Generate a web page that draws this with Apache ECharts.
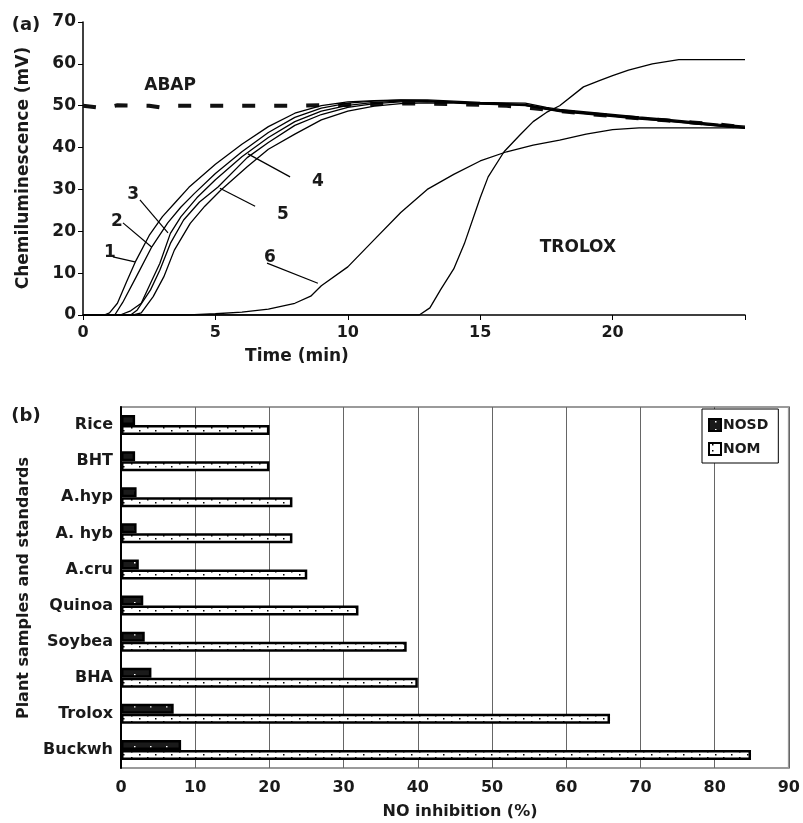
<!DOCTYPE html>
<html>
<head>
<meta charset="utf-8">
<script src="https://cdn.jsdelivr.net/npm/echarts@6/dist/echarts.min.js"></script>
<style>
  html, body { margin: 0; padding: 0; background: #fff; }
  #main { width: 803px; height: 823px; }
</style>
</head>
<body>
<div id="main"></div>
<script>
// (a) chemiluminescence curves, time in min / signal in mV
var abapTime = [0, 0.8, 1.3, 2.5, 3, 3.5, 5, 8, 10, 12, 13, 15, 16, 17, 18, 19, 20, 21, 22, 23, 24, 25];
var abapVal = [50, 49.4, 50.1, 50, 49.5, 50, 50, 50, 50.2, 50.5, 50.5, 50.2, 50, 49.4, 48.7, 48.1, 47.5, 47, 46.5, 46, 45.5, 44.8];

var time1 = [0, 0.8, 1, 1.3, 1.65, 2, 2.5, 3, 3.5, 4, 5, 6, 7, 8, 9, 10, 11, 12, 13, 14, 15, 16, 16.7, 17.5, 18, 19, 20, 21, 22, 23, 24, 25];
var val1 = [0, 0, 0.5, 2.8, 8, 13, 19, 23.5, 27, 30.5, 36, 40.8, 45, 48.2, 50, 50.9, 51.2, 51.4, 51.4, 51.1, 50.8, 50.7, 50.6, 49.6, 49.1, 48.5, 47.9, 47.3, 46.8, 46.2, 45.6, 45.1];

var time2 = [0, 1.2, 1.5, 2, 2.6, 3.2, 3.7, 4.2, 5, 6, 7, 8, 9, 10, 11, 12, 13, 14, 15, 16, 16.7, 17.5, 18, 19, 20, 21, 22, 23, 24, 25];
var val2 = [0, 0, 3, 9, 16.3, 22, 25.8, 29, 33.8, 39, 43.6, 47.2, 49.4, 50.6, 51.1, 51.3, 51.2, 50.9, 50.6, 50.5, 50.3, 49.4, 48.9, 48.3, 47.7, 47.1, 46.6, 46, 45.4, 44.9];

var time3 = [0, 1.4, 1.8, 2.2, 2.55, 2.9, 3.3, 3.7, 4.3, 5, 6, 7, 8, 9, 10, 11, 12, 13, 14, 15, 16, 16.7, 17.5, 18, 19, 20, 21, 22, 23, 24, 25];
var val3 = [0, 0, 1, 2.8, 7.6, 12.3, 19.5, 23.5, 28, 32.3, 37.8, 42.4, 46.2, 48.7, 50.1, 50.8, 51.1, 51.1, 50.8, 50.5, 50.4, 50.2, 49.3, 48.8, 48.2, 47.6, 47, 46.5, 45.9, 45.3, 44.8];

var time4 = [0, 1.8, 2.05, 2.55, 2.9, 3.3, 3.8, 4.4, 5.1, 6.2, 7, 8, 9, 10, 11, 12, 13, 14, 15, 16, 16.7, 17.5, 18, 19, 20, 21, 22, 23, 24, 25];
var val4 = [0, 0, 1.2, 6, 10.7, 17.1, 22.7, 27, 30.6, 37.6, 41.2, 45.3, 47.9, 49.6, 50.5, 50.9, 51, 50.8, 50.5, 50.3, 50.1, 49.2, 48.7, 48.1, 47.5, 46.9, 46.4, 45.8, 45.2, 44.7];

var time5 = [0, 1.9, 2.2, 2.65, 3.05, 3.45, 4.05, 4.6, 5.2, 6.2, 7, 8, 9, 10, 11, 12, 13, 14, 15, 16, 16.7, 17.5, 18, 19, 20, 21, 22, 23, 24, 25];
var val5 = [0, 0, 0.5, 4.4, 9.1, 15.5, 21.9, 26, 29.8, 35.4, 39.6, 43.2, 46.6, 48.7, 49.9, 50.5, 50.7, 50.6, 50.4, 50.2, 50, 49.1, 48.6, 48, 47.4, 46.8, 46.3, 45.7, 45.1, 44.6];

var time6 = [0, 4, 5, 6, 7, 8, 8.6, 9, 10, 11, 12, 13, 14, 15, 16, 17, 18, 19, 20, 21, 22, 25];
var val6 = [0, 0, 0.3, 0.7, 1.4, 2.8, 4.5, 7, 11.5, 18, 24.5, 30, 33.6, 36.8, 39, 40.6, 41.8, 43.2, 44.3, 44.7, 44.7, 44.7];

var troloxTime = [0, 12.7, 13.1, 13.5, 14, 14.4, 15, 15.3, 15.9, 16.5, 17, 17.5, 18, 18.9, 19.5, 20, 20.6, 21.5, 22.5, 25];
var troloxVal = [0, 0, 1.7, 6, 11, 17, 28, 33, 39, 43, 46.2, 48.4, 50, 54.5, 56, 57.2, 58.5, 60, 61, 61];

// annotation labels: [text, t, v, leader t0, v0, t1, v1]
var curveLabels = [
  ['1', 1.02, 15, 1.13, 13.9, 1.96, 12.7],
  ['2', 1.28, 22.2, 1.51, 22, 2.6, 16.2],
  ['3', 1.89, 28.7, 2.15, 27.5, 3.21, 19.6],
  ['4', 8.87, 31.8, 7.82, 33, 6.23, 38.5],
  ['5', 7.55, 23.9, 6.5, 26, 5.17, 30.3],
  ['6', 7.06, 13.6, 6.95, 12.4, 8.87, 7.6]
];
var textLabels = [['ABAP', 3.29, 54.9], ['TROLOX', 18.69, 16]];

// (b) NO inhibition
var categories = ['Rice', 'BHT', 'A.hyp', 'A. hyb', 'A.cru', 'Quinoa', 'Soybea', 'BHA', 'Trolox', 'Buckwh'];
var nosd = [1.9, 1.9, 2.1, 2.1, 2.4, 3.0, 3.2, 4.1, 7.1, 8.1];
var nom = [20, 20, 23.1, 23.1, 25.1, 32, 38.5, 40, 65.9, 84.9];

var FONT = 'DejaVu Sans';
var INK = '#1a1a1a';

function pairs (xs, ys) {
  var out = [];
  for (var i = 0; i < xs.length; i++) {
    out.push([xs[i], ys[i]]);
  }
  return out;
}

function tile (w, h, bg, fg, dots) { // dotted fill pattern
  var c = document.createElement('canvas');
  c.width = w;
  c.height = h;
  var ctx = c.getContext('2d');
  ctx.fillStyle = bg;
  ctx.fillRect(0, 0, w, h);
  ctx.fillStyle = fg;
  dots.forEach(function (d) { ctx.fillRect(d[0], d[1], 1.5, 1.5); });
  return c;
}

var nomFill = { image: tile(16, 6, '#fff', '#000', [[3, 1], [11, 4]]), repeat: 'repeat' };
var nosdFill = { image: tile(16, 8, '#1a1a1a', '#fff', [[6, 2]]), repeat: 'repeat' };

var myChart = echarts.init(document.getElementById('main'));

function curve (name, xs, ys) {
  return {
    name: name,
    type: 'line',
    xAxisIndex: 0,
    yAxisIndex: 0,
    showSymbol: false,
    silent: true,
    data: pairs(xs, ys),
    lineStyle: { color: '#000', width: 1.3 }
  };
}

function font (size) {
  return { color: INK, fontFamily: FONT, fontWeight: 'bold', fontSize: size };
}

var option = {
  animation: false,
  backgroundColor: '#fff',
  grid: [
    { left: 83, top: 22, width: 662, height: 293 },
    { left: 121, top: 407, width: 672, height: 361, show: true, borderColor: '#9a9a9a', borderWidth: 2 }
  ],
  legend: {
    data: ['NOSD', 'NOM'],
    orient: 'vertical',
    left: 702,
    top: 409,
    padding: [9, 10, 7, 6],
    itemGap: 10,
    itemWidth: 12,
    itemHeight: 12,
    icon: 'rect',
    selectedMode: false,
    backgroundColor: '#fff',
    borderColor: '#000',
    borderWidth: 1,
    borderRadius: 0,
    textStyle: Object.assign({ padding: [0, 0, 0, -3] }, font(14))
  },
  xAxis: [
    {
      type: 'value', gridIndex: 0, min: 0, max: 25, interval: 5,
      axisLine: { lineStyle: { color: '#000', width: 1.5 } },
      axisTick: { length: 5, lineStyle: { color: '#000' } },
      axisLabel: Object.assign({ margin: 10, formatter: function (v) { return v === 25 ? '' : v; } }, font(16)),
      splitLine: { show: false }
    },
    {
      type: 'value', gridIndex: 1, min: 0, max: 90, interval: 10,
      axisLine: { lineStyle: { color: '#000', width: 2 } },
      axisTick: { length: 5, lineStyle: { color: '#000' } },
      axisLabel: Object.assign({ margin: 12 }, font(16)),
      splitLine: { show: true, lineStyle: { color: '#666', width: 1 } }
    }
  ],
  yAxis: [
    {
      type: 'value', gridIndex: 0, min: 0, max: 70, interval: 10,
      axisLine: { show: true, lineStyle: { color: '#000', width: 1.5 } },
      axisTick: { show: true, length: 5, lineStyle: { color: '#000' } },
      axisLabel: Object.assign({ margin: 7 }, font(17)),
      splitLine: { show: false }
    },
    {
      type: 'category', gridIndex: 1, data: categories, inverse: true,
      axisLine: { lineStyle: { color: '#000', width: 2 } },
      axisTick: { length: 5, lineStyle: { color: '#000' } },
      axisLabel: Object.assign({ margin: 8 }, font(16)),
      splitLine: { show: false }
    }
  ],
  series: [
    {
      name: 'ABAP', type: 'line', xAxisIndex: 0, yAxisIndex: 0, showSymbol: false, silent: true,
      data: pairs(abapTime, abapVal),
      lineStyle: { color: '#111', width: 4, type: [13, 19] }
    },
    curve('1', time1, val1),
    curve('2', time2, val2),
    curve('3', time3, val3),
    curve('4', time4, val4),
    curve('5', time5, val5),
    curve('6', time6, val6),
    curve('TROLOX', troloxTime, troloxVal),
    {
      name: 'NOSD', type: 'bar', xAxisIndex: 1, yAxisIndex: 1,
      data: nosd, barWidth: 10, barGap: '0%', silent: true,
      itemStyle: { color: nosdFill, borderColor: '#000', borderWidth: 2.5 }
    },
    {
      name: 'NOM', type: 'bar', xAxisIndex: 1, yAxisIndex: 1,
      data: nom, barWidth: 10, barGap: '0%', silent: true,
      itemStyle: { color: nomFill, borderColor: '#000', borderWidth: 2.5 }
    }
  ]
};

myChart.setOption(option);

// texts and leader lines, placed in data coords of panel (a)
var txt = { fill: INK, fontFamily: FONT, fontWeight: 'bold', fontSize: 17 };
var elements = [];
function px (t, v) {
  return myChart.convertToPixel({ gridIndex: 0 }, [t, v]);
}
function label (text, x, y, size, rot) {
  var el = { type: 'text', x: x, y: y, style: Object.assign({ text: text, align: 'center', verticalAlign: 'middle' }, txt, { fontSize: size }) };
  if (rot) el.rotation = rot;
  return el;
}
curveLabels.forEach(function (c) {
  var p = px(c[1], c[2]);
  var a = px(c[3], c[4]);
  var b = px(c[5], c[6]);
  elements.push(label(c[0], p[0], p[1], 17));
  elements.push({ type: 'line', shape: { x1: a[0], y1: a[1], x2: b[0], y2: b[1] }, style: { stroke: '#000', lineWidth: 1.2 } });
});
textLabels.forEach(function (c) {
  var p = px(c[1], c[2]);
  elements.push(label(c[0], p[0], p[1], 17));
});
elements.push(label('(a)', 26, 25, 18));
elements.push(label('(b)', 26, 416, 18));
elements.push(label('Chemiluminescence (mV)', 24, 168, 17, Math.PI / 2));
elements.push(label('Time (min)', 297, 357, 17));
elements.push(label('Plant samples and standards', 24, 588, 16, Math.PI / 2));
elements.push(label('NO inhibition (%)', 460, 812, 16));

myChart.setOption({ graphic: { elements: elements } });
</script>
</body>
</html>
